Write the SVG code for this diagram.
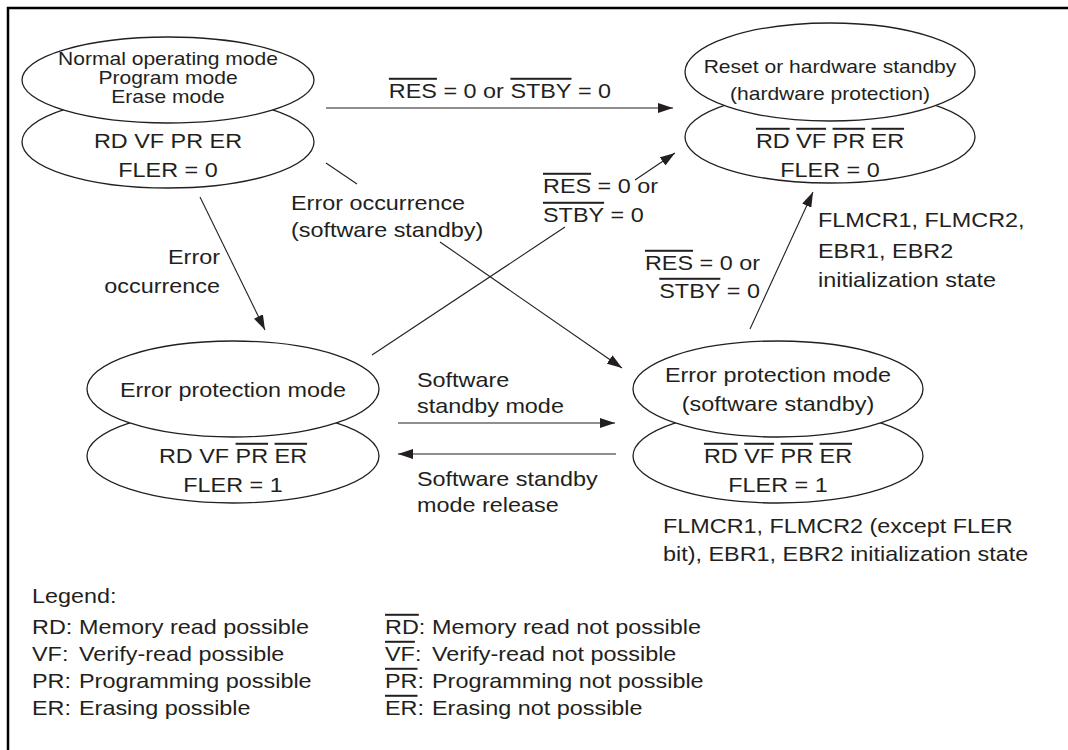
<svg xmlns="http://www.w3.org/2000/svg" width="1068" height="750" viewBox="0 0 1068 750">
<style>
text{font-family:"Liberation Sans",Arial,sans-serif;fill:#231f20;font-size:20px}
.s{font-size:18px}
.m{text-anchor:middle}
.e{text-anchor:end}
.o{text-decoration:overline}
.el{fill:#fff;stroke:#231f20;stroke-width:1.3}
.ln{fill:none;stroke:#231f20;stroke-width:1.1}
.fr{stroke:#000;stroke-width:2.5}
</style>
<defs>
<marker id="ah" markerWidth="15" markerHeight="10" refX="15" refY="5" orient="auto" markerUnits="userSpaceOnUse"><path d="M0,0 L15,5 L0,10 z" fill="#231f20"/></marker>
</defs>
<rect width="1068" height="750" fill="#fff"/>
<line class="fr" x1="7" y1="8" x2="1068" y2="8"/>
<line class="fr" x1="8" y1="7" x2="8" y2="750"/>

<g id="connectors">
<line class="ln" x1="326" y1="108" x2="673" y2="108" marker-end="url(#ah)"/>
<line class="ln" x1="326" y1="163" x2="357" y2="184"/>
<line class="ln" x1="440" y1="242" x2="622" y2="368" marker-end="url(#ah)"/>
<line class="ln" x1="200" y1="197" x2="265" y2="330" marker-end="url(#ah)"/>
<line class="ln" x1="372" y1="355" x2="565" y2="227"/>
<line class="ln" x1="635" y1="180" x2="675" y2="153" marker-end="url(#ah)"/>
<line class="ln" x1="750" y1="329" x2="813" y2="192" marker-end="url(#ah)"/>
<line class="ln" x1="398" y1="423" x2="615" y2="423" marker-end="url(#ah)"/>
<line class="ln" x1="616" y1="454" x2="398" y2="454" marker-end="url(#ah)"/>
</g>

<g id="labels">
<text class="m" transform="translate(500,98) scale(1.17,1)"><tspan class="o">RES</tspan> = 0 or <tspan class="o">STBY</tspan> = 0</text>
<text transform="translate(291,210) scale(1.17,1)">Error occurrence</text>
<text transform="translate(291,237) scale(1.17,1)">(software standby)</text>
<text class="e" transform="translate(220,264) scale(1.17,1)">Error</text>
<text class="e" transform="translate(220,293) scale(1.17,1)">occurrence</text>
<text transform="translate(543,193) scale(1.17,1)"><tspan class="o">RES</tspan> = 0 or</text>
<text transform="translate(543,222) scale(1.17,1)"><tspan class="o">STBY</tspan> = 0</text>
<text class="e" transform="translate(760,270) scale(1.17,1)"><tspan class="o">RES</tspan> = 0 or</text>
<text class="e" transform="translate(760,298) scale(1.17,1)"><tspan class="o">STBY</tspan> = 0</text>
<text transform="translate(818,227) scale(1.17,1)">FLMCR1, FLMCR2,</text>
<text transform="translate(818,258) scale(1.17,1)">EBR1, EBR2</text>
<text transform="translate(818,287) scale(1.17,1)">initialization state</text>
<text transform="translate(417,387) scale(1.17,1)">Software</text>
<text transform="translate(417,413) scale(1.17,1)">standby mode</text>
<text transform="translate(417,486) scale(1.17,1)">Software standby</text>
<text transform="translate(417,512) scale(1.17,1)">mode release</text>
<text transform="translate(663,533) scale(1.17,1)">FLMCR1, FLMCR2 (except FLER</text>
<text transform="translate(663,561) scale(1.17,1)">bit), EBR1, EBR2 initialization state</text>
</g>

<g id="nodeA">
<ellipse class="el" cx="168" cy="142" rx="146" ry="46"/>
<ellipse class="el" cx="168" cy="80" rx="146" ry="43"/>
<text class="m s" transform="translate(168,65) scale(1.17,1)">Normal operating mode</text>
<text class="m s" transform="translate(168,84) scale(1.17,1)">Program mode</text>
<text class="m s" transform="translate(168,103) scale(1.17,1)">Erase mode</text>
<text class="m" transform="translate(168,148) scale(1.17,1)">RD VF PR ER</text>
<text class="m" transform="translate(168,177) scale(1.17,1)">FLER = 0</text>
</g>

<g id="nodeB">
<ellipse class="el" cx="830" cy="137" rx="145" ry="46"/>
<ellipse class="el" cx="830" cy="72" rx="145" ry="49"/>
<text class="m s" transform="translate(830,73) scale(1.17,1)">Reset or hardware standby</text>
<text class="m s" transform="translate(830,100) scale(1.17,1)">(hardware protection)</text>
<text class="m" transform="translate(830,148) scale(1.17,1)"><tspan class="o">RD</tspan> <tspan class="o">VF</tspan> <tspan class="o">PR</tspan> <tspan class="o">ER</tspan></text>
<text class="m" transform="translate(830,177) scale(1.17,1)">FLER = 0</text>
</g>

<g id="nodeC">
<ellipse class="el" cx="233" cy="456" rx="146" ry="47"/>
<ellipse class="el" cx="233" cy="389" rx="146" ry="48"/>
<text class="m" transform="translate(233,397) scale(1.17,1)">Error protection mode</text>
<text class="m" transform="translate(233,463) scale(1.17,1)">RD VF <tspan class="o">PR</tspan> <tspan class="o">ER</tspan></text>
<text class="m" transform="translate(233,492) scale(1.17,1)">FLER = 1</text>
</g>

<g id="nodeD">
<ellipse class="el" cx="778" cy="456" rx="145" ry="47"/>
<ellipse class="el" cx="778" cy="389" rx="145" ry="48"/>
<text class="m" transform="translate(778,382) scale(1.17,1)">Error protection mode</text>
<text class="m" transform="translate(778,411) scale(1.17,1)">(software standby)</text>
<text class="m" transform="translate(778,463) scale(1.17,1)"><tspan class="o">RD</tspan> <tspan class="o">VF</tspan> <tspan class="o">PR</tspan> <tspan class="o">ER</tspan></text>
<text class="m" transform="translate(778,492) scale(1.17,1)">FLER = 1</text>
</g>

<g id="legend">
<text transform="translate(32,603) scale(1.17,1)">Legend:</text>
<text transform="translate(32,634) scale(1.17,1)">RD:</text>
<text transform="translate(79,634) scale(1.17,1)">Memory read possible</text>
<text transform="translate(32,661) scale(1.17,1)">VF:</text>
<text transform="translate(79,661) scale(1.17,1)">Verify-read possible</text>
<text transform="translate(32,688) scale(1.17,1)">PR:</text>
<text transform="translate(79,688) scale(1.17,1)">Programming possible</text>
<text transform="translate(32,715) scale(1.17,1)">ER:</text>
<text transform="translate(79,715) scale(1.17,1)">Erasing possible</text>
<text transform="translate(385,634) scale(1.17,1)"><tspan class="o">RD</tspan>:</text>
<text transform="translate(432,634) scale(1.17,1)">Memory read not possible</text>
<text transform="translate(385,661) scale(1.17,1)"><tspan class="o">VF</tspan>:</text>
<text transform="translate(432,661) scale(1.17,1)">Verify-read not possible</text>
<text transform="translate(385,688) scale(1.17,1)"><tspan class="o">PR</tspan>:</text>
<text transform="translate(432,688) scale(1.17,1)">Programming not possible</text>
<text transform="translate(385,715) scale(1.17,1)"><tspan class="o">ER</tspan>:</text>
<text transform="translate(432,715) scale(1.17,1)">Erasing not possible</text>
</g>
</svg>
